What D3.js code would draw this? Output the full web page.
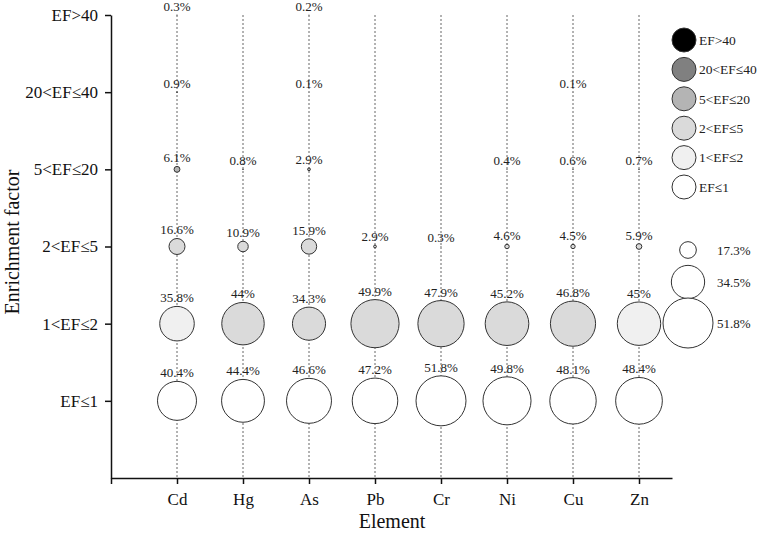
<!DOCTYPE html>
<html>
<head>
<meta charset="utf-8">
<script src="https://cdn.jsdelivr.net/npm/d3@7"></script>
<style>
  body { margin: 0; background: #fff; }
  svg { font-family: "Liberation Serif", "Times New Roman", serif; }
</style>
</head>
<body>
<div id="chart"></div>
<script>
const width = 761;
const height = 539;

const elements = ["Cd", "Hg", "As", "Pb", "Cr", "Ni", "Cu", "Zn"];
const classes = ["EF≤1", "1<EF≤2", "2<EF≤5", "5<EF≤20", "20<EF≤40", "EF>40"];

// percentage of samples per class (EF≤1 ... EF>40), null = none
const cd = [40.4, 35.8, 16.6, 6.1, 0.9, 0.3];
const hg = [44.4, 44, 10.9, 0.8, null, null];
const as = [46.6, 34.3, 15.9, 2.9, 0.1, 0.2];
const pb = [47.2, 49.9, 2.9, null, null, null];
const cr = [51.8, 47.9, 0.3, null, null, null];
const ni = [49.8, 45.2, 4.6, 0.4, null, null];
const cu = [48.1, 46.8, 4.5, 0.6, 0.1, null];
const zn = [48.4, 45, 5.9, 0.7, null, null];
const values = [cd, hg, as, pb, cr, ni, cu, zn];

// shade class used for the 1<EF≤2 bubble of each element (as drawn in the figure)
const row2Shade = ["1<EF≤2", "2<EF≤5", "2<EF≤5", "2<EF≤5", "2<EF≤5", "2<EF≤5", "2<EF≤5", "1<EF≤2"];

const sizeLegend = [17.3, 34.5, 51.8];

const svg = d3.select("#chart")
  .append("svg")
  .attr("width", width)
  .attr("height", height);

const x = d3.scaleLinear()
  .domain([0, 8.5])
  .range([111, 672]);

const y = d3.scaleLinear()
  .domain([0, 6])
  .range([478, 15]);

const r = d3.scaleLinear()
  .domain([0, 51.8])
  .range([0, 25]);

const fill = d3.scaleOrdinal()
  .domain(classes)
  .range(["#ffffff", "#f0f0f0", "#dadada", "#b4b4b4", "#808080", "#000000"]);

// dotted guide lines
svg.append("g")
  .selectAll("line")
  .data(elements)
  .enter().append("line")
  .attr("x1", (d, i) => x(i + 1))
  .attr("x2", (d, i) => x(i + 1))
  .attr("y1", y(6))
  .attr("y2", y(0))
  .attr("stroke", "#666")
  .attr("stroke-width", 1)
  .attr("stroke-dasharray", "2,2");

// axes
const xAxis = svg.append("g")
  .attr("transform", `translate(0,${y(0)})`)
  .call(d3.axisBottom(x)
    .tickValues(d3.range(0, 9))
    .tickSize(6)
    .tickSizeOuter(0)
    .tickFormat(d => d === 0 ? "" : elements[d - 1]));

xAxis.selectAll("text")
  .attr("font-size", 17)
  .attr("font-family", "Liberation Serif")
  .attr("fill", "#111")
  .attr("dy", "1.05em");

const yAxis = svg.append("g")
  .attr("transform", `translate(${x(0)},0)`)
  .call(d3.axisLeft(y)
    .tickValues(d3.range(1, 7))
    .tickSize(6)
    .tickSizeOuter(0)
    .tickFormat(d => classes[d - 1]));

yAxis.selectAll("text")
  .attr("font-size", 17)
  .attr("font-family", "Liberation Serif")
  .attr("fill", "#111")
  .attr("x", -13);

svg.selectAll(".domain, .tick line")
  .attr("stroke", "#111")
  .attr("stroke-width", 1.5);

// bubbles
const cells = [];
values.forEach((col, i) => {
  col.forEach((v, j) => {
    if (v != null) {
      const shade = j === 1 ? row2Shade[i] : classes[j];
      cells.push({ el: i, cls: j, v: v, shade: shade });
    }
  });
});

svg.append("g")
  .selectAll("circle")
  .data(cells)
  .enter().append("circle")
  .attr("cx", d => x(d.el + 1))
  .attr("cy", d => y(d.cls + 1))
  .attr("r", d => r(d.v))
  .attr("fill", d => fill(d.shade))
  .attr("stroke", "#333")
  .attr("stroke-width", 1);

svg.append("g")
  .selectAll("text")
  .data(cells)
  .enter().append("text")
  .attr("x", d => x(d.el + 1))
  .attr("y", d => y(d.cls + 1) - r(d.v) - 4)
  .attr("text-anchor", "middle")
  .attr("font-size", 13)
  .attr("fill", "#222")
  .text(d => d.v + "%");

// axis titles
svg.append("text")
  .attr("x", 392)
  .attr("y", 528)
  .attr("text-anchor", "middle")
  .attr("font-size", 20)
  .attr("fill", "#111")
  .text("Element");

svg.append("text")
  .attr("transform", "translate(19,242) rotate(-90)")
  .attr("text-anchor", "middle")
  .attr("font-size", 20)
  .attr("fill", "#111")
  .text("Enrichment factor");

// legend: classes
const legendY = d3.scalePoint()
  .domain(classes.slice().reverse())
  .range([40, 187]);

const legend = svg.append("g");

legend.selectAll("circle")
  .data(classes.slice().reverse())
  .enter().append("circle")
  .attr("cx", 684)
  .attr("cy", d => legendY(d))
  .attr("r", 12)
  .attr("fill", d => fill(d))
  .attr("stroke", "#333")
  .attr("stroke-width", 1);

legend.selectAll("text")
  .data(classes.slice().reverse())
  .enter().append("text")
  .attr("x", 699)
  .attr("y", d => legendY(d))
  .attr("dy", "0.35em")
  .attr("font-size", 13.5)
  .attr("fill", "#222")
  .text(d => d);

// legend: sizes
const sizeY = d3.scaleOrdinal()
  .domain(sizeLegend)
  .range([250, 282, 323]);

const sizeG = svg.append("g");

sizeG.selectAll("circle")
  .data(sizeLegend)
  .enter().append("circle")
  .attr("cx", 688)
  .attr("cy", d => sizeY(d))
  .attr("r", d => r(d))
  .attr("fill", "#fff")
  .attr("stroke", "#333")
  .attr("stroke-width", 1);

sizeG.selectAll("text")
  .data(sizeLegend)
  .enter().append("text")
  .attr("x", 717)
  .attr("y", d => sizeY(d))
  .attr("dy", "0.35em")
  .attr("font-size", 13)
  .attr("fill", "#222")
  .text(d => d + "%");
</script>
</body>
</html>
